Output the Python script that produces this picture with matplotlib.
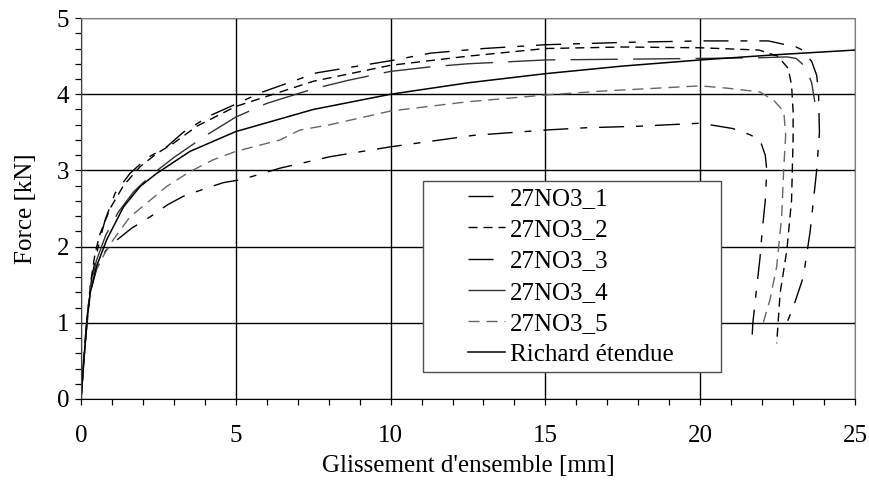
import matplotlib
matplotlib.use("Agg")
import matplotlib.pyplot as plt
from matplotlib.lines import Line2D
from matplotlib.legend_handler import HandlerLine2D
from matplotlib.ticker import MultipleLocator

plt.rcParams['font.family'] = ['Liberation Serif', 'DejaVu Serif']
plt.rcParams['lines.scale_dashes'] = False

# 27NO3_1 (lowest test curve)
x1 = [0, 0.15, 0.3, 0.5, 0.8, 1.2, 1.63, 2.23, 2.8, 3.3, 4.0, 4.6, 5.19, 6.43, 8.04, 10, 12.67,
      15, 16.3, 18, 20, 21.05, 21.6, 21.93, 22.1, 22.15, 22.1, 22.0, 21.93, 21.82, 21.7, 21.66]
y1 = [0, 0.8, 1.4, 1.7, 1.95, 2.1, 2.24, 2.39, 2.55, 2.66, 2.76, 2.84, 2.88, 3.03, 3.18, 3.31, 3.46,
      3.53, 3.56, 3.58, 3.62, 3.55, 3.47, 3.40, 3.2, 3.0, 2.6, 2.2, 1.85, 1.45, 1.0, 0.7]

# 27NO3_2
x2 = [0, 0.15, 0.3, 0.45, 0.6, 0.94, 1.37, 1.91, 2.44, 3.0, 3.74, 5, 7.5, 10, 12.5, 15, 17.5, 20,
      21.9, 22.5, 22.84, 22.95, 23.0, 23.0, 22.95, 22.8, 22.58, 22.47]
y2 = [0, 0.8, 1.5, 1.9, 2.15, 2.5, 2.8, 3.05, 3.22, 3.36, 3.58, 3.84, 4.17, 4.38, 4.5, 4.60, 4.62, 4.61,
      4.58, 4.5, 4.34, 4.12, 3.77, 3.42, 2.61, 1.96, 1.39, 0.73]

# 27NO3_3 (highest)
x3 = [0, 0.1, 0.2, 0.35, 0.5, 0.61, 0.78, 1.1, 1.58, 2.12, 2.77, 3.3, 4.17, 5.0, 5.8, 7.6, 10, 11.3,
      13, 15, 17.5, 20, 22.2, 23.1, 23.3, 23.6, 23.76, 23.82, 23.85, 23.76, 23.55, 23.33, 23.0, 22.8]
y3 = [0, 0.6, 1.1, 1.6, 1.9, 2.09, 2.35, 2.7, 2.96, 3.16, 3.31, 3.5, 3.72, 3.87, 4.02, 4.28, 4.44, 4.54,
      4.60, 4.65, 4.68, 4.70, 4.70, 4.62, 4.58, 4.43, 4.25, 4.03, 3.5, 3.0, 2.2, 1.6, 1.2, 1.0]

# 27NO3_4
x4 = [0, 0.1, 0.2, 0.35, 0.5, 0.8, 1.2, 1.7, 2.3, 3.0, 4.0, 5.0, 6.0, 7.5, 8.6, 10, 11.3, 12.5, 15,
      17.5, 20, 22.0, 22.8, 23.1, 23.4, 23.6, 23.7]
y4 = [0, 0.6, 1.1, 1.55, 1.82, 2.15, 2.45, 2.72, 2.95, 3.17, 3.45, 3.70, 3.88, 4.07, 4.18, 4.30, 4.36,
      4.40, 4.45, 4.46, 4.47, 4.48, 4.49, 4.47, 4.36, 4.15, 3.9]

# 27NO3_5
x5 = [0, 0.15, 0.3, 0.5, 0.75, 1.04, 1.58, 2.12, 2.77, 3.5, 4.27, 5.0, 6.43, 7.07, 8.04, 10, 12.46,
      15, 16.76, 20, 20.86, 21.93, 22.4, 22.7, 22.76, 22.7, 22.63, 22.47, 22.25, 22.0]
y5 = [0, 0.8, 1.45, 1.7, 1.9, 2.09, 2.39, 2.57, 2.79, 2.98, 3.14, 3.25, 3.40, 3.53, 3.60, 3.78, 3.90,
      3.99, 4.04, 4.11, 4.08, 4.03, 3.91, 3.77, 3.46, 3.05, 2.39, 1.74, 1.30, 0.95]

# Richard etendue (model)
xr = [0, 0.1, 0.2, 0.3, 0.5, 0.83, 1.37, 1.91, 2.44, 3.52, 5, 7.5, 10, 12.5, 15, 17.5, 20, 22.5, 25]
yr = [0, 0.55, 1.05, 1.4, 1.74, 2.09, 2.52, 2.79, 2.96, 3.25, 3.51, 3.80, 4.0, 4.15, 4.27, 4.37, 4.45,
      4.52, 4.58]

fig = plt.figure(figsize=(8.7, 4.88), dpi=100)
ax = fig.add_axes([0.0931, 0.1824, 0.8897, 0.7806])

lw = 1.0
ax.plot(x1, y1, color='black', lw=lw, dashes=(18, 8.6, 5, 8.6), label='27NO3_1')
ax.plot(x2, y2, color='black', lw=lw, dashes=(6.5, 4.3), label='27NO3_2')
ax.plot(x3, y3, color='black', lw=lw, dashes=(18, 8.6, 5, 8.6), label='27NO3_3')
ax.plot(x4, y4, color='#333333', lw=lw, dashes=(34, 11), label='27NO3_4')
ax.plot(x5, y5, color='#666666', lw=lw, dashes=(8, 5), label='27NO3_5')
ax.plot(xr, yr, color='black', lw=1.1, label='Richard étendue')

ax.set_xlim(0, 25)
ax.set_ylim(0, 5)
ax.xaxis.set_major_locator(MultipleLocator(5))
ax.xaxis.set_minor_locator(MultipleLocator(1))
ax.yaxis.set_major_locator(MultipleLocator(1))
ax.yaxis.set_minor_locator(MultipleLocator(0.2))
ax.tick_params(which='both', direction='out', length=4.5, width=0.9, labelsize=18, pad=4)
ax.tick_params(axis='x', which='major', pad=14)
ax.grid(which='major', color='black', lw=1.0)
ax.set_axisbelow(True)

for side in ['top', 'right']:
    ax.spines[side].set_color('#808080')
ax.spines['left'].set_color('#404040')
ax.spines['bottom'].set_color('black')

ax.set_xlabel("Glissement d'ensemble [mm]", fontsize=18, labelpad=6)
ax.set_ylabel("Force [kN]", fontsize=18, labelpad=14)

leg = ax.legend(loc='upper left', bbox_to_anchor=(0.4415, 0.0, 0.3854, 0.5722), mode='expand',
                borderaxespad=0, fontsize=18, fancybox=False, framealpha=1, edgecolor='#505050',
                handlelength=3.05, handletextpad=0.2, borderpad=0.25, labelspacing=0.35,
                handler_map={Line2D: HandlerLine2D(xpad=1.56)})
leg.get_frame().set_linewidth(1.0)

fig.savefig('out.png', dpi=100)
